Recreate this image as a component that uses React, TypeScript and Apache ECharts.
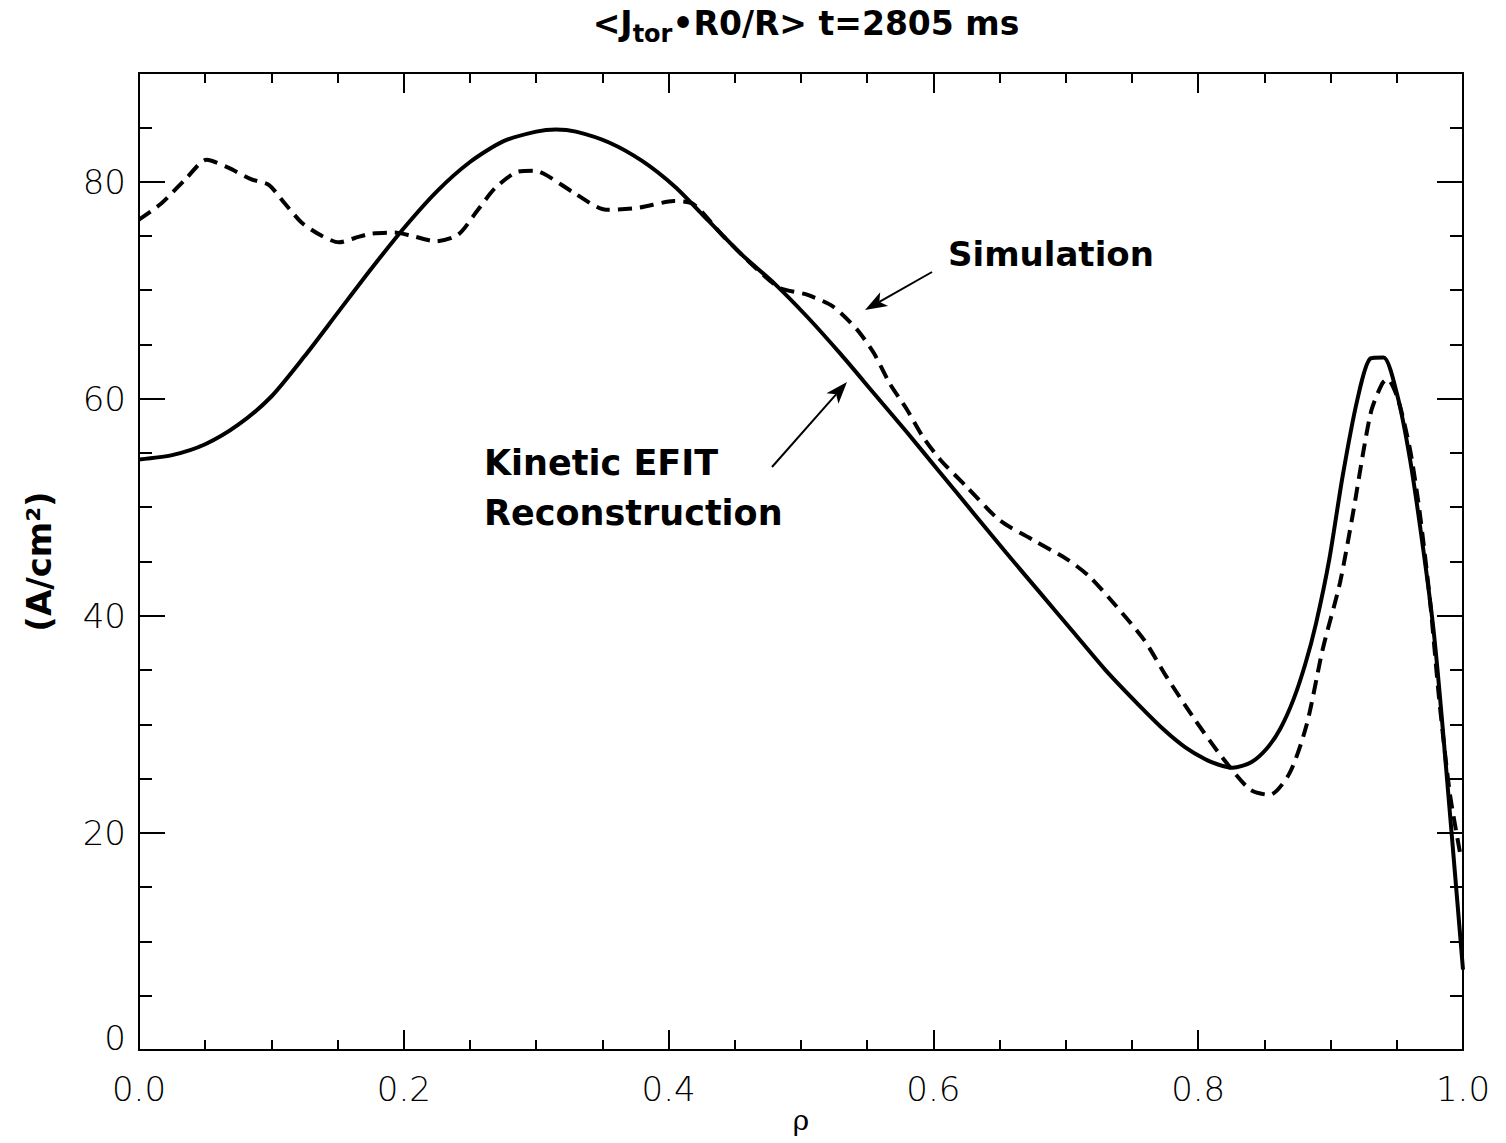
import React, { useEffect, useRef } from "react";
import * as echarts from "echarts";

const efitX = [0, 0.025, 0.05, 0.075, 0.1, 0.125, 0.15, 0.175, 0.2, 0.225, 0.25, 0.275, 0.3, 0.315, 0.33, 0.355, 0.38, 0.405, 0.43, 0.455, 0.48, 0.505, 0.53, 0.555, 0.58, 0.605, 0.63, 0.655, 0.68, 0.705, 0.73, 0.755, 0.775, 0.79, 0.805, 0.815, 0.826, 0.84, 0.852, 0.862, 0.872, 0.881, 0.889, 0.899, 0.909, 0.92, 0.93, 0.94, 0.95, 0.96, 0.97, 0.978, 0.985, 1.0];
const efitY = [54.4, 54.8, 55.8, 57.6, 60.2, 63.9, 67.9, 71.9, 75.7, 79.1, 81.8, 83.7, 84.6, 84.8, 84.6, 83.6, 81.9, 79.5, 76.4, 73.3, 70.6, 67.5, 64.1, 60.5, 56.9, 53.2, 49.5, 45.8, 42.2, 38.6, 35.0, 31.8, 29.4, 27.9, 26.8, 26.3, 26.0, 26.5, 27.8, 29.6, 32.3, 35.6, 39.3, 45.2, 52.8, 59.8, 63.7, 63.8, 60.5, 54.4, 46.1, 38.4, 29.2, 7.4];

const simX = [0, 0.017, 0.035, 0.051, 0.067, 0.085, 0.098, 0.11, 0.123, 0.138, 0.151, 0.163, 0.175, 0.193, 0.206, 0.224, 0.241, 0.256, 0.269, 0.286, 0.299, 0.309, 0.328, 0.353, 0.378, 0.404, 0.419, 0.441, 0.467, 0.484, 0.504, 0.524, 0.542, 0.555, 0.567, 0.58, 0.592, 0.605, 0.625, 0.65, 0.675, 0.701, 0.718, 0.738, 0.759, 0.776, 0.796, 0.816, 0.839, 0.854, 0.869, 0.882, 0.894, 0.907, 0.917, 0.925, 0.931, 0.939, 0.943, 0.951, 0.96, 0.967, 0.975, 0.982, 0.99, 0.998];
const simY = [76.5, 78.0, 80.2, 82.0, 81.3, 80.2, 79.7, 78.0, 76.2, 75.0, 74.4, 74.8, 75.2, 75.3, 75.0, 74.5, 75.1, 77.4, 79.4, 80.9, 81.0, 80.5, 79.0, 77.4, 77.6, 78.2, 77.9, 75.0, 71.9, 70.2, 69.6, 68.5, 66.4, 64.2, 61.4, 59.0, 56.5, 54.4, 51.9, 48.8, 47.0, 45.2, 43.6, 40.9, 37.8, 34.4, 30.7, 27.3, 24.0, 23.5, 25.5, 30.0, 36.9, 43.0, 49.5, 55.3, 59.0, 61.4, 61.8, 59.9, 55.3, 49.8, 41.5, 32.3, 23.7, 18.0];

const xMajorTicks = [0.0, 0.2, 0.4, 0.6, 0.8, 1.0];
const yMajorTicks = [0, 20, 40, 60, 80];

const LABEL_FONT = "DejaVu Sans";
const BOLD_FONT = "DejaVu Sans";

function arrow(x1: number, y1: number, x2: number, y2: number) {
  const dx = x2 - x1, dy = y2 - y1;
  const len = Math.sqrt(dx * dx + dy * dy);
  const ux = dx / len, uy = dy / len;
  const hl = 22, hw = 8;
  const bx = x2 - ux * hl, by = y2 - uy * hl;
  const nx = -uy, ny = ux;
  const mx = x2 - ux * hl * 0.75, my = y2 - uy * hl * 0.75;
  return [
    { type: "line", shape: { x1, y1, x2: mx, y2: my }, style: { stroke: "#000", lineWidth: 2 } },
    {
      type: "polygon",
      shape: { points: [[x2, y2], [bx + nx * hw, by + ny * hw], [mx, my], [bx - nx * hw, by - ny * hw]] },
      style: { fill: "#000" },
    },
  ];
}

export default function App() {
  const ref = useRef<HTMLDivElement>(null);
  useEffect(() => {
    const chart = echarts.init(ref.current!, null, { renderer: "svg" });
    const efit = efitX.map((x, i) => [x, efitY[i]]);
    const sim = simX.map((x, i) => [x, simY[i]]);
    const labelStyle = { fontFamily: LABEL_FONT, fontWeight: 200, fontSize: 34, color: "#000" };
    const hidden = { show: false };
    const frameLine = { show: true, onZero: false, lineStyle: { color: "#000", width: 2 } };
    const noLine = { show: false, onZero: false };
    const tick = (length: number) => ({ show: true, inside: true, length, lineStyle: { color: "#000", width: 2 } });
    const baseX = { type: "value", min: 0, max: 1, splitLine: hidden };
    const baseY = { type: "value", min: 0, max: 90, splitLine: hidden };
    const gridPos = { left: 139, right: 43, top: 73, bottom: 93, containLabel: false, outerBoundsMode: "none" };
    chart.setOption({
      animation: false,
      backgroundColor: "#fff",
      title: {
        text: "{a|<J}{s|tor}{a|•R0/R> t=2805 ms}",
        left: 801,
        top: -4,
        textAlign: "center",
        textStyle: {
          rich: {
            a: { fontFamily: BOLD_FONT, fontWeight: "bold", fontSize: 33, color: "#000", lineHeight: 44, verticalAlign: "middle" },
            s: { fontFamily: BOLD_FONT, fontWeight: "bold", fontSize: 24, color: "#000", lineHeight: 44, verticalAlign: "middle", padding: [22, 0, 0, 0] },
          },
        },
      },
      grid: [gridPos, gridPos],
      xAxis: [
        {
          ...baseX,
          gridIndex: 0,
          position: "bottom",
          interval: 0.2,
          axisLine: frameLine,
          axisTick: tick(20),
          axisLabel: { ...labelStyle, margin: 22, formatter: (v: number) => v.toFixed(1), customValues: xMajorTicks },
        },
        { ...baseX, gridIndex: 0, position: "top", interval: 0.2, axisLine: frameLine, axisTick: tick(20), axisLabel: hidden },
        { ...baseX, gridIndex: 1, position: "bottom", interval: 0.05, axisLine: noLine, axisTick: tick(10), axisLabel: hidden },
        { ...baseX, gridIndex: 1, position: "top", interval: 0.05, axisLine: noLine, axisTick: tick(10), axisLabel: hidden },
      ],
      yAxis: [
        {
          ...baseY,
          gridIndex: 0,
          position: "left",
          interval: 20,
          name: "(A/cm²)",
          nameLocation: "middle",
          nameRotate: 90,
          nameGap: 83,
          nameTextStyle: { fontFamily: BOLD_FONT, fontWeight: "bold", fontSize: 34, color: "#000" },
          axisLine: frameLine,
          axisTick: tick(26),
          axisLabel: {
            ...labelStyle,
            margin: 13,
            customValues: yMajorTicks,
            formatter: (v: number) => (v === 0 ? "{z|0}" : String(v)),
            rich: { z: { ...labelStyle, padding: [0, 0, 24, 0] } },
          },
        },
        { ...baseY, gridIndex: 0, position: "right", interval: 20, axisLine: frameLine, axisTick: tick(26), axisLabel: hidden },
        { ...baseY, gridIndex: 1, position: "left", interval: 5, axisLine: noLine, axisTick: tick(13), axisLabel: hidden },
        { ...baseY, gridIndex: 1, position: "right", interval: 5, axisLine: noLine, axisTick: tick(13), axisLabel: hidden },
      ],
      series: [
        {
          name: "Kinetic EFIT Reconstruction",
          type: "line",
          xAxisIndex: 0,
          yAxisIndex: 0,
          data: efit,
          showSymbol: false,
          smooth: 0.25,
          lineStyle: { color: "#000", width: 4 },
        },
        {
          name: "Simulation",
          type: "line",
          xAxisIndex: 0,
          yAxisIndex: 0,
          data: sim,
          showSymbol: false,
          smooth: 0.25,
          lineStyle: { color: "#000", width: 4, type: [14, 8] },
        },
      ],
      graphic: [
        { type: "text", left: 948, top: 237, style: { text: "Simulation", font: `bold 34px "${BOLD_FONT}"`, fill: "#000" } },
        { type: "text", left: 484, top: 445, style: { text: "Kinetic EFIT", font: `bold 35px "${BOLD_FONT}"`, fill: "#000" } },
        { type: "text", left: 484, top: 495, style: { text: "Reconstruction", font: `bold 35px "${BOLD_FONT}"`, fill: "#000" } },
        { type: "text", x: 801, y: 1106, style: { text: "ρ", font: `28px "DejaVu Serif"`, fill: "#000", textAlign: "center", textVerticalAlign: "top" } },
        ...arrow(932, 272, 865, 310),
        ...arrow(772, 467, 847, 382),
      ],
    });
    return () => chart.dispose();
  }, []);
  return <div ref={ref} style={{ position: "absolute", left: 0, top: 0, width: 1506, height: 1143 }} />;
}
